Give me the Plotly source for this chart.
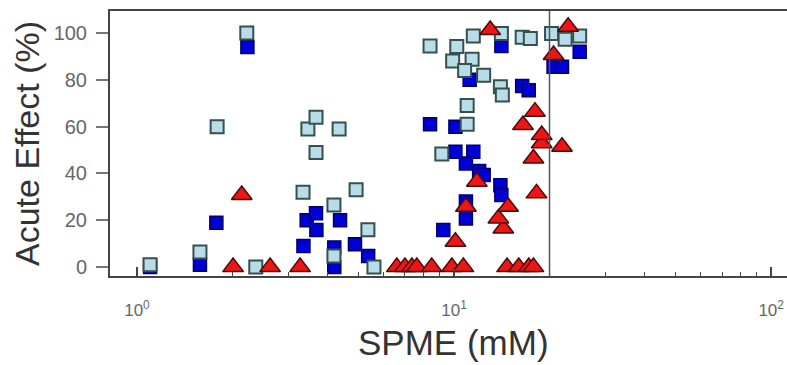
import plotly.graph_objects as go

# Light blue squares
lb_x = [1.10, 1.58, 1.79, 2.22, 2.37, 3.34, 3.46, 3.67, 3.67, 4.18, 4.34, 4.18, 4.91, 5.35, 5.59,
        8.40, 10.2, 9.9, 11.5, 11.4, 10.8, 12.4, 14.0, 14.2, 11.0, 11.0, 9.15,
        14.1, 16.4, 17.4, 20.3, 22.4, 24.9]
lb_y = [1, 6.4, 60, 100, 0, 32, 59, 64, 49, 26.5, 59, 4.7, 33, 16, 0,
        94.4, 94.2, 88, 98.7, 88.8, 84, 82, 77, 73.5, 69, 61, 48.3,
        99.8, 98.2, 97.7, 99.8, 97.3, 98.7]

# Dark blue squares
bl_x = [1.10, 1.58, 1.78, 2.23, 3.35, 3.43, 3.67, 3.68, 4.37, 4.19, 4.19, 4.87, 5.36,
        8.40, 10.1, 10.1, 11.5, 10.9, 12.0, 12.4, 14.0, 14.1, 10.9, 10.9, 9.25,
        11.2, 16.4, 17.2, 14.1, 20.6, 21.9, 24.9]
bl_y = [0, 1, 19, 94, 9, 20, 23, 15.8, 20, 8.4, 0, 9.8, 4.7,
        61, 60, 49.3, 49.3, 44.3, 41, 39.3, 35, 30.8, 28, 20.8, 15.8,
        80, 77.4, 75.6, 94.4, 85.6, 85.6, 92]

# Red triangles
rd_x = [2.01, 2.14, 2.63, 3.27, 6.6, 7.0, 7.36, 7.63, 8.5, 9.84, 10.7, 14.7, 16.0, 17.2, 17.8,
        10.1, 14.3, 13.8, 10.9, 14.8, 18.2, 11.8, 17.8, 21.9, 18.9, 18.9, 16.5, 18.0,
        20.6, 13.0, 22.9]
rd_y = [0, 30.8, 0, 0, 0, 0, 0, 0, 0, 0, 0, 0, 0, 0, 0,
        10.8, 16.5, 20.8, 25.8, 25.8, 31.5, 36.5, 46.4, 51.4, 52.9, 56.4, 60.7, 66.4,
        90.6, 101.3, 102.7]

threshold = [20]

x_title = "SPME (mM)"
y_title = "Acute Effect (%)"
x_tickvals = [1, 10, 100]
x_ticktext = ["10<sup>0</sup>", "10<sup>1</sup>", "10<sup>2</sup>"]
x_minor = [2, 3, 4, 5, 6, 7, 8, 9, 20, 30, 40, 50, 60, 70, 80, 90]
y_tickvals = [0, 20, 40, 60, 80, 100]

FONT = "Liberation Sans, Arial, Helvetica, sans-serif"

fig = go.Figure()
fig.add_trace(go.Scatter(x=bl_x, y=bl_y, mode="markers",
                         marker=dict(symbol="square", size=13, color="#0000d4",
                                     line=dict(color="#00006a", width=1.5)),
                         showlegend=False))
fig.add_trace(go.Scatter(x=lb_x, y=lb_y, mode="markers",
                         marker=dict(symbol="square", size=13, color="#b8dde8",
                                     line=dict(color="#34504f", width=2)),
                         showlegend=False))
fig.add_trace(go.Scatter(x=rd_x, y=rd_y, mode="markers",
                         marker=dict(symbol="triangle-up", size=18, color="#ee1515",
                                     line=dict(color="#4a0a0a", width=1.5)),
                         showlegend=False))

for t in threshold:
    fig.add_shape(type="line", xref="x", yref="paper", x0=t, x1=t, y0=0, y1=1,
                  line=dict(color="#555555", width=1.5))

fig.add_annotation(text=x_title, xref="paper", yref="paper", x=0.5, y=0,
                   xanchor="center", yanchor="middle", xshift=5, yshift=-66,
                   showarrow=False, font=dict(size=35, color="#333333"))

fig.update_layout(
    width=787, height=365,
    margin=dict(l=110, r=0, t=11, b=89),
    plot_bgcolor="white", paper_bgcolor="white",
    font=dict(family=FONT, color="#333333"),
)
fig.update_xaxes(
    type="log", range=[-0.085, 2.05],
    tickmode="array", tickvals=x_tickvals, ticktext=x_ticktext,
    ticks="inside", ticklen=9, tickwidth=1.5, tickcolor="#444444",
    minor=dict(tickmode="array", tickvals=x_minor, ticks="inside", ticklen=4,
               tickwidth=1, tickcolor="#444444"),
    tickfont=dict(size=17, color="#666666"),
    ticklabelstandoff=18,
    showline=True, linecolor="#444444", linewidth=2, mirror=True,
    showgrid=False, zeroline=False,
)
fig.update_yaxes(
    range=[-3.8, 109.4],
    tickmode="array", tickvals=y_tickvals,
    ticks="outside", ticklen=12, tickwidth=1.5, tickcolor="#777777",
    tickfont=dict(size=20, color="#666666"),
    ticklabelstandoff=5,
    showline=True, linecolor="#444444", linewidth=2,
    showgrid=False, zeroline=False,
    title=dict(text=y_title, font=dict(size=34, color="#333333"), standoff=4),
)

fig.write_html("out.html")
